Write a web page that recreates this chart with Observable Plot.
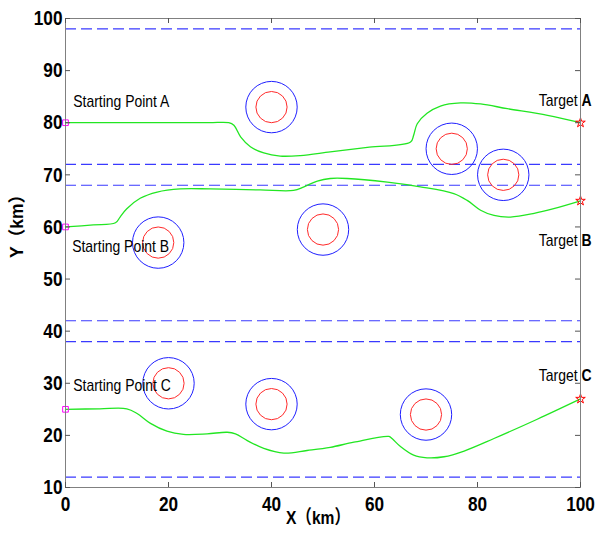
<!DOCTYPE html>
<html><head><meta charset="utf-8">
<script src="https://cdn.jsdelivr.net/npm/d3@7"></script>
<script src="https://cdn.jsdelivr.net/npm/@observablehq/plot@0.6"></script>
<style>body{margin:0;background:#fff}</style>
</head><body><div id="chart"></div>
<script>
const xTicks = [0, 20, 40, 60, 80, 100];
const yTicks = [10, 20, 30, 40, 50, 60, 70, 80, 90, 100];
const corridorY = [98, 72, 68, 42, 38, 12];
const obstacleX = [40, 75, 85, 18, 50, 20, 40, 70];
const obstacleY = [83, 75, 70, 57, 59.5, 30, 26, 24];

const pathAX = [0, 10, 20, 28, 31.7, 32.7, 34.0, 35.9, 38.5, 41.7, 45.6, 51.4, 59, 67.0, 67.6, 68.3, 70.2, 72.8, 76.7, 80.6, 85.8, 93.6, 100];
const pathAY = [80, 80, 80, 80, 80, 79.5, 77.3, 75.4, 74.2, 73.6, 73.7, 74.4, 75.3, 76.3, 77.6, 79.8, 81.8, 83.2, 83.8, 83.6, 82.7, 81.4, 80];
const pathBX = [0, 5.4, 9.7, 10.6, 11.9, 14.5, 17.8, 22.3, 28.1, 37.8, 44.3, 46.3, 48.9, 51.4, 54.7, 62.5, 68.9, 75.4, 78.0, 80.6, 83.2, 86.4, 91.0, 94.8, 100];
const pathBY = [60, 60.4, 60.8, 61.9, 63.5, 65.5, 66.7, 67.3, 67.3, 67.1, 67.0, 67.7, 68.8, 69.3, 69.3, 68.6, 67.7, 66.4, 65.1, 63.2, 62.2, 61.9, 62.6, 63.5, 65];
const pathCX = [0, 6.7, 11.9, 13.9, 16.5, 19.7, 22.9, 27.5, 31.4, 33.0, 35.3, 38.5, 42.4, 46.9, 51.4, 56.0, 62.8, 63.4, 65.1, 67.6, 70.2, 73.5, 77.4, 83.2, 91.6, 100];
const pathCY = [25, 25.1, 25.1, 24.2, 22.3, 20.8, 20.2, 20.3, 20.6, 20.3, 19.0, 17.5, 16.6, 17.1, 17.7, 18.7, 19.8, 19.4, 17.8, 16.2, 15.7, 15.9, 17.0, 19.4, 23.1, 27];

const startX = [0, 0, 0];
const startY = [80, 60, 25];
const targetX = [100, 100, 100];
const targetY = [80, 65, 27];

const startLabels = ["Starting Point A", "Starting Point B", "Starting Point C"];
const startLabelX = [1.5, 1.3, 1.5];
const startLabelY = [84.1, 56.2, 29.5];
const targetLetters = ["A", "B", "C"];
const targetLabelY = [84.3, 57.4, 31.5];
const xTitle = "X（km）";
const yTitle = "Y（km）";

const W = 596, H = 536;
const mL = 65, mR = 16, mT = 18, mB = 49;
const fw = W - mL - mR, fh = H - mT - mB;
const fam = "'Liberation Sans',Arial,'Noto Sans CJK SC',sans-serif";

const chart = Plot.plot({
  width: W, height: H,
  marginLeft: mL, marginRight: mR, marginTop: mT, marginBottom: mB,
  x: {domain: [0, 100]},
  y: {domain: [10, 100]},
  style: {fontFamily: fam, fontSize: "21px", fontWeight: "bold", color: "#000", background: "#fff"},
  marks: [
    Plot.ruleY(corridorY, {y: d => d, stroke: "#3a3aff", strokeWidth: 1.2, strokeDasharray: "11,5"}),
    Plot.dot(obstacleX, {x: obstacleX, y: obstacleY, r: 25.7, stroke: "#1f1fff", strokeWidth: 1}),
    Plot.dot(obstacleX, {x: obstacleX, y: obstacleY, r: 15.6, stroke: "#ff2a2a", strokeWidth: 1}),
    Plot.line(pathAX, {x: pathAX, y: pathAY, stroke: "#22e622", strokeWidth: 1.3, curve: "catmull-rom"}),
    Plot.line(pathBX, {x: pathBX, y: pathBY, stroke: "#22e622", strokeWidth: 1.3, curve: "catmull-rom"}),
    Plot.line(pathCX, {x: pathCX, y: pathCY, stroke: "#22e622", strokeWidth: 1.3, curve: "catmull-rom"}),
    Plot.dot(startX, {x: startX, y: startY, symbol: "square", r: 3.2, stroke: "#ff00ff", strokeWidth: 1}),
    Plot.dot(targetX, {x: targetX, y: targetY, symbol: "star", r: 3, stroke: "#ff0000", strokeWidth: 1}),
    Plot.frame({stroke: "#808080"}),
    Plot.ruleX(xTicks, {x: d => d, insetTop: fh - 5, stroke: "#555"}),
    Plot.ruleX(xTicks, {x: d => d, insetBottom: fh - 5, stroke: "#555"}),
    Plot.ruleY(yTicks, {y: d => d, insetRight: fw - 5, stroke: "#555"}),
    Plot.ruleY(yTicks, {y: d => d, insetLeft: fw - 5, stroke: "#555"}),
    Plot.axisX(xTicks, {tickSize: 0, tickPadding: 9, label: null, fontSize: 21, fontWeight: "bold"}),
    Plot.axisY(yTicks, {tickSize: 0, tickPadding: 3, label: null, fontSize: 21, fontWeight: "bold"}),
    Plot.text(startLabels, {x: startLabelX, y: startLabelY, text: d => d, textAnchor: "start", fontSize: 17, fontWeight: "normal", fill: "#000"}),
    Plot.text(targetLetters, {x: targetX, y: targetLabelY, text: d => "Target", textAnchor: "end", dx: -3, fontSize: 17, fontWeight: "normal", fill: "#000"}),
    Plot.text(targetLetters, {x: targetX, y: targetLabelY, text: d => d, textAnchor: "start", dx: 1, fontSize: 17, fontWeight: "bold", fill: "#000"}),
    Plot.text([xTitle], {frameAnchor: "bottom", text: d => d, dy: 36, dx: -5, fontSize: 19, fontWeight: "bold", fill: "#000"}),
    Plot.text([yTitle], {frameAnchor: "left", text: d => d, dx: -48, dy: 5, rotate: -90, fontSize: 17.5, fontWeight: "bold", fill: "#000", className: "ytitle"})
  ]
});
document.getElementById("chart").appendChild(chart);
// condense glyphs horizontally to match the narrow lettering of the reference,
// keeping each text's anchor point (start / middle / end) in place
chart.querySelectorAll("text").forEach(t => {
  if (t.closest(".ytitle")) return;
  const L = t.getComputedTextLength();
  if (!(L > 0)) return;
  const b0 = t.getBBox();
  const anchor = getComputedStyle(t).textAnchor;
  t.setAttribute("textLength", (L * 0.82).toFixed(2));
  t.setAttribute("lengthAdjust", "spacingAndGlyphs");
  const b1 = t.getBBox();
  let want = b0.x;
  if (anchor === "end") want = b0.x + b0.width - b1.width;
  else if (anchor === "middle") want = b0.x + (b0.width - b1.width) / 2;
  const shift = want - b1.x;
  if (Math.abs(shift) > 0.05) {
    const tr = t.getAttribute("transform") || "";
    t.setAttribute("transform", (tr + ` translate(${shift.toFixed(2)},0)`).trim());
  }
});
</script>
</body></html>
